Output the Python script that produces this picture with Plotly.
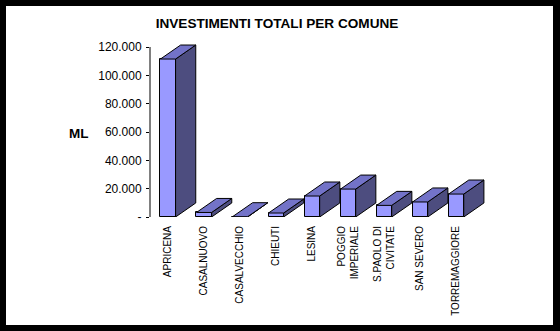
import plotly.graph_objects as go

categories = ["APRICENA", "CASALNUOVO", "CASALVECCHIO", "CHIEUTI", "LESINA",
              "POGGIO<br>IMPERIALE", "S.PAOLO DI<br>CIVITATE", "SAN SEVERO", "TORREMAGGIORE"]
values = [111500, 3200, 200, 2800, 14800, 19700, 8200, 10600, 16200]
tick_vals = [0, 20000, 40000, 60000, 80000, 100000, 120000]
tick_text = ["-", "20.000", "40.000", "60.000", "80.000", "100.000", "120.000"]

W, H = 560, 331
ML, MR, MT, MB = 150, 66, 30, 114
XR = [-0.5, 9.05]
YR = [0, 132000]

half = 0.21          # half width of front face (category units)
dx = 0.56            # depth offset in x (category units)
dy = 9900            # depth offset in y (value units)

FRONT = "#9999FF"
TOP = "#7373C8"
SIDE = "#4D4D7F"

fig = go.Figure()

xs = list(range(len(categories)))

# side faces and top faces computed from values
for i, v in zip(xs, values):
    x0, x1 = i - half, i + half
    fig.add_trace(go.Scatter(
        x=[x1, x1 + dx, x1 + dx, x1, x1],
        y=[0, dy, v + dy, v, 0],
        fill="toself", fillcolor=SIDE, mode="lines",
        line=dict(color="black", width=1), hoverinfo="skip", showlegend=False))
    fig.add_trace(go.Scatter(
        x=[x0, x1, x1 + dx, x0 + dx, x0],
        y=[v, v, v + dy, v + dy, v],
        fill="toself", fillcolor=TOP, mode="lines",
        line=dict(color="black", width=1), hoverinfo="skip", showlegend=False))

# front faces
fig.add_trace(go.Bar(
    x=xs, y=values, width=2 * half,
    marker=dict(color=FRONT, line=dict(color="black", width=1)),
    showlegend=False, hoverinfo="skip"))

pw = W - ML - MR
ph = H - MT - MB

def px_to_paper_x(p):
    return (p - ML) / pw

def px_to_paper_y(p):
    return (H - MB - p) / ph

def frame_rect(x0, y0, x1, y1):
    return dict(type="rect", xref="paper", yref="paper",
                x0=px_to_paper_x(x0), x1=px_to_paper_x(x1),
                y0=px_to_paper_y(y1), y1=px_to_paper_y(y0),
                line=dict(width=0), fillcolor="black", layer="above")

B = 6
shapes = [
    # y axis line drawn only up to the top tick
    dict(type="line", xref="paper", yref="y", x0=0, x1=0, y0=0, y1=tick_vals[-1],
         line=dict(color="black", width=1)),
    # outer black frame
    frame_rect(0, 0, W, B),
    frame_rect(0, H - B, W, H),
    frame_rect(0, 0, B, H),
    frame_rect(W - 7, 0, W, H),
]

fig.update_layout(
    width=W, height=H,
    margin=dict(l=ML, r=MR, t=MT, b=MB),
    paper_bgcolor="white", plot_bgcolor="white",
    font=dict(family="Liberation Sans, Arial", color="black"),
    title=dict(text="<b>INVESTIMENTI TOTALI PER COMUNE</b>", x=277 / W, xanchor="center",
               y=1 - 23 / H, yanchor="middle", font=dict(size=13.6)),
    xaxis=dict(range=XR, tickmode="array", tickvals=xs, ticktext=categories,
               tickangle=-90, tickfont=dict(size=10), showline=False, showgrid=False,
               zeroline=False, ticks="", ticklen=0, ticklabelstandoff=6),
    yaxis=dict(range=YR, tickmode="array", tickvals=tick_vals, ticktext=tick_text,
               tickfont=dict(size=12), showline=False, showgrid=False, zeroline=False,
               ticks="outside", ticklen=3, tickcolor="black", ticklabelstandoff=2),
    shapes=shapes,
    annotations=[dict(text="<b>ML</b>", xref="paper", yref="paper",
                      x=px_to_paper_x(79), y=px_to_paper_y(133),
                      xanchor="center", yanchor="middle", showarrow=False,
                      font=dict(size=13.5))],
    bargap=0,
)

fig.write_html("out.html")
